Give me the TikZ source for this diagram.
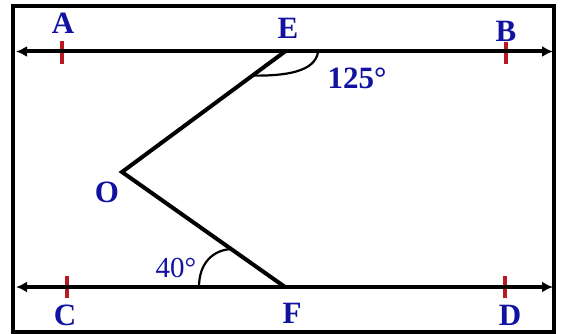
\documentclass[tikz,border=0pt]{standalone}
\usepackage{fontspec}
\setmainfont{Liberation Serif}
\usetikzlibrary{arrows.meta,calc}
\definecolor{lblue}{RGB}{18,18,160}
\definecolor{tickred}{RGB}{185,25,35}
\begin{document}
\begin{tikzpicture}[x=1pt,y=-1pt,
  lbl/.style={text=lblue,font=\fontsize{31}{33}\selectfont\bfseries,inner sep=0pt},
  lblthin/.style={text=lblue,font=\fontsize{29}{31}\selectfont,inner sep=0pt},
  mainline/.style={line width=4pt,{Latex[length=11pt,width=11pt]}-{Latex[length=11pt,width=11pt]}},
  leg/.style={line width=4pt,line join=miter},
  tick/.style={draw=tickred,line width=3.2pt},
  anglearc/.style={line width=2.2pt}]
\useasboundingbox (0,0) rectangle (564,334);
\draw[line width=3.2pt] (13,6) rectangle (554,332);
% coordinates
\coordinate (ABl) at (16,51.5);
\coordinate (ABr) at (553,51.5);
\coordinate (CDl) at (16,287);
\coordinate (CDr) at (553,287);
\coordinate (E) at (285,51.5);
\coordinate (O) at (122,172);
\coordinate (F) at (285,287);
% ticks
\draw[tick] (62,41) -- (62,64);
\draw[tick] (506,42) -- (506,64);
\draw[tick] (67,276) -- (67,298);
\draw[tick] (505,276) -- (505,298);
% main lines
\draw[mainline] (ABl) -- (ABr);
\draw[mainline] (CDl) -- (CDr);
\draw[leg] (E) -- (O) -- (F);
% angle arcs
\draw[anglearc] (318,52) .. controls (315,72) and (285,76) .. ($(E)!0.2!(O)$);
\draw[anglearc] (199,287) .. controls (199,263) and (213,250) .. ($(F)!0.33!(O)$);
% labels
\node[lbl] (lA) at (63,23) {A};
\node[lbl] (lE) at (288,28) {E};
\node[lbl] (lB) at (506,31) {B};
\node[lbl] (lC) at (65,315) {C};
\node[lbl] (lF) at (292,313) {F};
\node[lbl] (lD) at (510,315) {D};
\node[lbl] (lO) at (107,192) {O};
\node[lbl] (l125) at (357,78) {125°};
\node[lblthin] (l40) at (176,268) {40°};
\end{tikzpicture}
\end{document}
